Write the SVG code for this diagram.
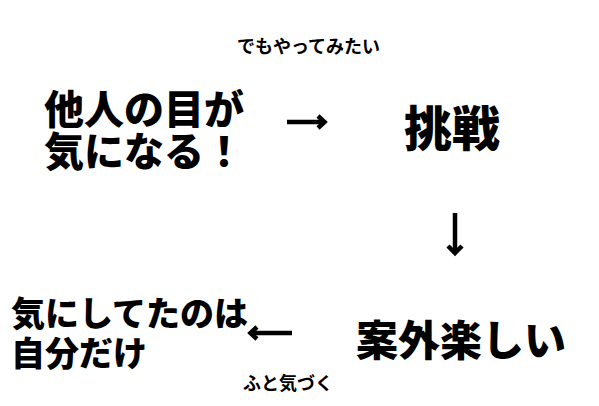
<svg xmlns="http://www.w3.org/2000/svg" width="599" height="406" viewBox="0 0 599 406">
<style>
text{font-family:"Noto Sans CJK JP","Noto Sans",sans-serif;fill:#000;font-weight:900}
.big{font-size:40px}
.mid{font-size:34px}
.small{font-size:18px;font-weight:700}
.arr{stroke:#000;stroke-width:4.5;fill:none}
.head{stroke:#000;stroke-width:4.5;fill:none;stroke-linejoin:miter;stroke-linecap:butt}
</style>
<rect width="599" height="406" fill="#fff"/>
<g id="label-top"><text class="small" x="237" y="53">でもやってみたい</text></g>
<g id="node-1"><text class="big" x="44" y="124">他人の目が</text><text class="big" x="44" y="166">気になる！</text></g>
<g id="node-2"><text x="404" y="146" style="font-size:48px">挑戦</text></g>
<g id="node-3"><text x="356" y="356" style="font-size:42px">案外楽しい</text></g>
<g id="node-4"><text class="mid" x="11" y="326">気にしてたのは</text><text class="mid" x="11" y="366">自分だけ</text></g>
<g id="label-bottom"><text class="small" x="243" y="390">ふと気づく</text></g>
<g id="connectors">
<path class="arr" d="M287 122 H323"/><path class="head" d="M318 116 L324.5 122 L318 128"/>
<path class="arr" d="M455 213 V253"/><path class="head" d="M448 246 L455 253 L462 246"/>
<path class="arr" d="M292 333 H252"/><path class="head" d="M257 327 L250.5 333 L257 339"/>
</g>
</svg>
